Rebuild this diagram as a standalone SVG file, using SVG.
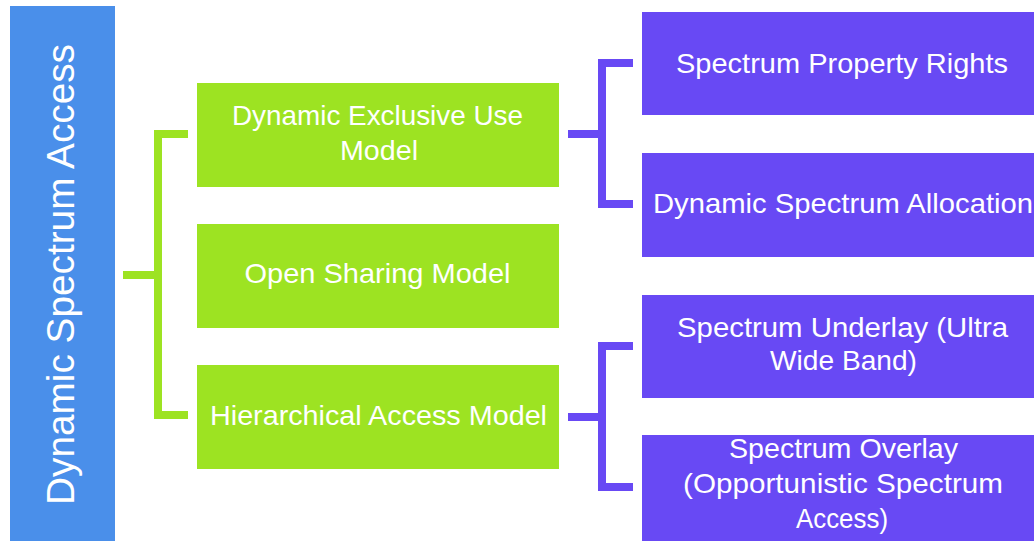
<svg xmlns="http://www.w3.org/2000/svg" width="1034" height="541" viewBox="0 0 1034 541">
  <style>
    .root { fill: #4A8FEA; }
    .model { fill: #9DE322; }
    .leaf { fill: #6849F4; }
    .lbl { font-family: "Liberation Sans", Arial, sans-serif; font-size: 28px; fill: #FFFFFF; text-anchor: middle; }
    .title { font-family: "Liberation Sans", Arial, sans-serif; font-size: 38px; fill: #FFFFFF; text-anchor: middle; }
    .g-link { fill: none; stroke: #9DE322; stroke-width: 8; stroke-linejoin: miter; }
    .p-link { fill: none; stroke: #6849F4; stroke-width: 8; stroke-linejoin: miter; }
  </style>
  <rect width="1034" height="541" fill="#FFFFFF"/>

  <!-- Connectors -->
  <g id="connectors">
    <path class="g-link" d="M188,134 H158 V415 H188"/>
    <path class="g-link" d="M123,275 H158"/>
    <path class="p-link" d="M633,63 H602 V204 H633"/>
    <path class="p-link" d="M568,134 H602"/>
    <path class="p-link" d="M633,346 H602 V487 H633"/>
    <path class="p-link" d="M568,417 H602"/>
  </g>

  <!-- Root -->
  <g id="dsa">
    <rect class="root" x="10" y="6" width="105" height="535"/>
    <text class="title" transform="translate(74,274.5) rotate(-90)" x="0" y="0" textLength="461" lengthAdjust="spacingAndGlyphs">Dynamic Spectrum Access</text>
  </g>

  <!-- Models -->
  <g id="exclusive-use">
    <rect class="model" x="197" y="83" width="362" height="104"/>
    <text class="lbl" x="377.5" y="125" textLength="291" lengthAdjust="spacingAndGlyphs">Dynamic Exclusive Use</text>
    <text class="lbl" x="379" y="160" textLength="78" lengthAdjust="spacingAndGlyphs">Model</text>
  </g>
  <g id="open-sharing">
    <rect class="model" x="197" y="224" width="362" height="104"/>
    <text class="lbl" x="377.5" y="283" textLength="266" lengthAdjust="spacingAndGlyphs">Open Sharing Model</text>
  </g>
  <g id="hierarchical">
    <rect class="model" x="197" y="365" width="362" height="104"/>
    <text class="lbl" x="378.5" y="425" textLength="337" lengthAdjust="spacingAndGlyphs">Hierarchical Access Model</text>
  </g>

  <!-- Leaves -->
  <g id="property-rights">
    <rect class="leaf" x="642" y="12" width="392" height="103"/>
    <text class="lbl" x="842" y="73" textLength="332" lengthAdjust="spacingAndGlyphs">Spectrum Property Rights</text>
  </g>
  <g id="allocation">
    <rect class="leaf" x="642" y="153" width="392" height="104"/>
    <text class="lbl" x="843" y="213" textLength="380" lengthAdjust="spacingAndGlyphs">Dynamic Spectrum Allocation</text>
  </g>
  <g id="underlay">
    <rect class="leaf" x="642" y="295" width="392" height="103"/>
    <text class="lbl" x="842.5" y="337" textLength="331" lengthAdjust="spacingAndGlyphs">Spectrum Underlay (Ultra</text>
    <text class="lbl" x="843.5" y="370" textLength="147" lengthAdjust="spacingAndGlyphs">Wide Band)</text>
  </g>
  <g id="overlay">
    <rect class="leaf" x="642" y="435" width="392" height="106"/>
    <text class="lbl" x="843.5" y="458" textLength="229" lengthAdjust="spacingAndGlyphs">Spectrum Overlay</text>
    <text class="lbl" x="843" y="493" textLength="320" lengthAdjust="spacingAndGlyphs">(Opportunistic Spectrum</text>
    <text class="lbl" x="842" y="528" textLength="92" lengthAdjust="spacingAndGlyphs">Access)</text>
  </g>
</svg>
